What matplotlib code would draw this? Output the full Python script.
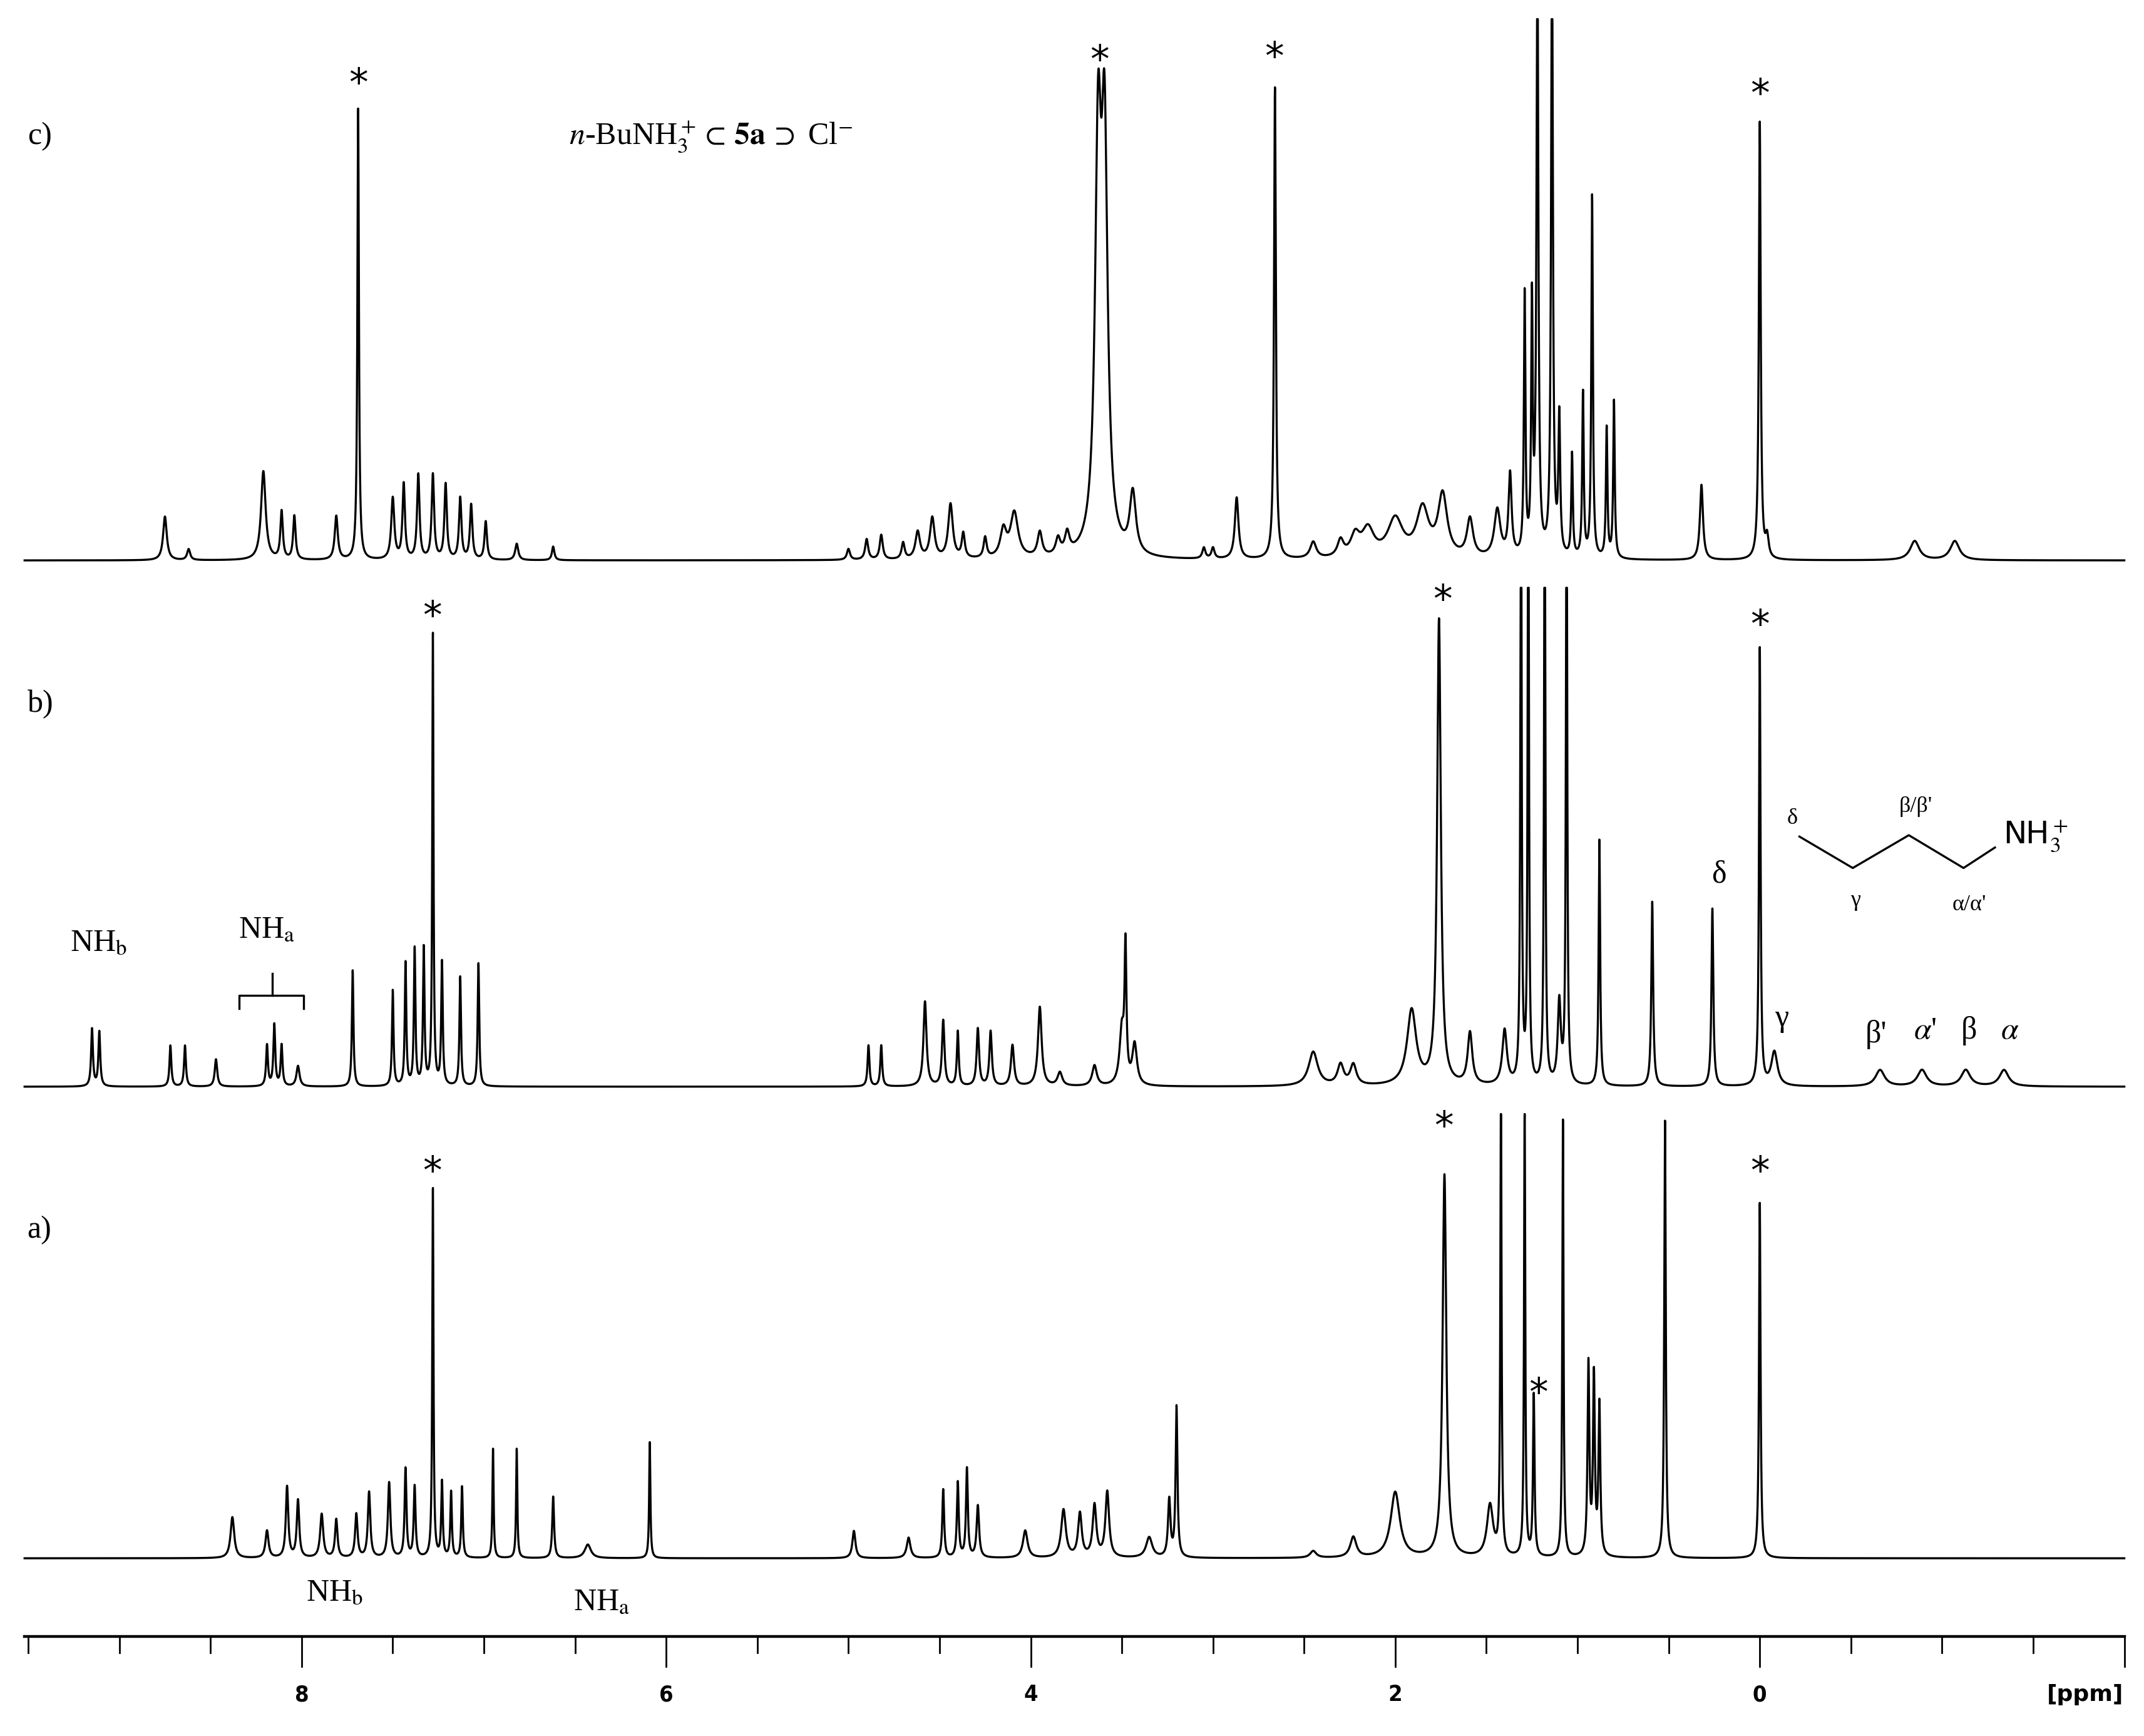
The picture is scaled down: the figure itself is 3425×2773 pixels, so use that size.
import numpy as np
import matplotlib
matplotlib.use("Agg")
import matplotlib.pyplot as plt

plt.rcParams['font.family'] = ['Liberation Serif', 'DejaVu Serif']
plt.rcParams['mathtext.fontset'] = 'stix'

# ---- data: peak positions (ppm), heights (arb.), half-widths (ppm) ----
c_ppm = [8.75, 8.62, 8.21, 8.11, 8.04, 7.81, 7.69, 7.50, 7.44, 7.36, 7.28, 7.21, 7.13, 7.07, 6.99, 6.82, 6.62,
         5.00, 4.90, 4.82, 4.70, 4.62, 4.54, 4.44, 4.37, 4.25, 4.15, 4.09, 3.95, 3.85, 3.80, 3.63, 3.595, 3.44, 3.05, 3.00,
         2.87, 2.66, 2.45, 2.30, 2.22, 2.15, 2.00, 1.85, 1.74, 1.59, 1.44, 1.37, 1.29, 1.25, 1.22, 1.14, 1.10, 1.03,
         0.97, 0.92, 0.84, 0.80, 0.32, 0.00, -0.04, -0.85, -1.07]
c_h = [32, 8, 65, 35, 32, 32, 330, 45, 55, 62, 62, 55, 45, 40, 28, 12, 10,
       8, 15, 18, 12, 20, 30, 40, 18, 15, 20, 33, 18, 12, 15, 285, 285, 45, 8, 8,
       45, 345, 12, 12, 15, 20, 28, 35, 45, 28, 35, 60, 190, 180, 450, 450, 100, 75,
       120, 265, 95, 115, 55, 320, 15, 14, 14]
c_w = [0.012, 0.01, 0.015, 0.008, 0.008, 0.01, 0.005, 0.01, 0.008, 0.008, 0.008, 0.008, 0.008, 0.008, 0.008, 0.01, 0.008,
       0.01, 0.01, 0.01, 0.01, 0.015, 0.015, 0.015, 0.01, 0.01, 0.02, 0.025, 0.015, 0.015, 0.015, 0.02, 0.02, 0.02, 0.01, 0.01,
       0.012, 0.006, 0.02, 0.02, 0.03, 0.04, 0.05, 0.04, 0.03, 0.02, 0.02, 0.01, 0.005, 0.005, 0.006, 0.006, 0.006, 0.005,
       0.005, 0.005, 0.005, 0.005, 0.01, 0.006, 0.01, 0.03, 0.03]

b_ppm = [9.15, 9.11, 8.72, 8.64, 8.47, 8.19, 8.15, 8.11, 8.02, 7.72, 7.50, 7.43, 7.38, 7.33, 7.28, 7.23, 7.13, 7.03,
         4.89, 4.82, 4.58, 4.48, 4.40, 4.29, 4.22, 4.10, 3.95, 3.84, 3.65, 3.50, 3.48, 3.43,
         2.45, 2.30, 2.23, 1.91, 1.76, 1.59, 1.40, 1.31, 1.27, 1.18, 1.10, 1.06, 0.88, 0.59, 0.26, 0.00, -0.08,
         -0.66, -0.89, -1.13, -1.34]
b_h = [42, 40, 30, 30, 20, 30, 45, 30, 15, 85, 70, 90, 100, 100, 330, 90, 80, 90,
       30, 30, 62, 48, 40, 42, 40, 30, 58, 10, 15, 40, 95, 30,
       25, 15, 15, 55, 340, 38, 40, 500, 500, 500, 60, 500, 180, 135, 130, 320, 25,
       12, 12, 12, 12]
b_w = [0.006, 0.006, 0.006, 0.006, 0.008, 0.006, 0.006, 0.006, 0.01, 0.005, 0.005, 0.005, 0.005, 0.005, 0.004, 0.005, 0.005, 0.005,
       0.006, 0.006, 0.01, 0.008, 0.006, 0.008, 0.008, 0.01, 0.012, 0.015, 0.015, 0.015, 0.006, 0.015,
       0.03, 0.02, 0.02, 0.03, 0.012, 0.015, 0.015, 0.004, 0.004, 0.004, 0.01, 0.004, 0.005, 0.006, 0.006, 0.005, 0.02,
       0.03, 0.03, 0.03, 0.03]

a_ppm = [8.38, 8.19, 8.08, 8.02, 7.89, 7.81, 7.70, 7.63, 7.52, 7.43, 7.38, 7.28, 7.23, 7.18, 7.12, 6.95, 6.82, 6.62, 6.43, 6.09,
         4.97, 4.67, 4.48, 4.40, 4.35, 4.29, 4.03, 3.82, 3.73, 3.65, 3.58, 3.35, 3.24, 3.20,
         2.45, 2.23, 2.00, 1.73, 1.48, 1.42, 1.29, 1.24, 1.08, 0.94, 0.91, 0.88, 0.52, 0.00]
a_h = [30, 20, 52, 42, 32, 28, 32, 48, 55, 65, 52, 270, 55, 48, 52, 80, 80, 45, 10, 85,
       20, 15, 50, 55, 65, 38, 20, 35, 32, 38, 48, 15, 42, 110,
       5, 15, 48, 280, 38, 340, 330, 118, 320, 140, 130, 110, 320, 260]
a_w = [0.012, 0.01, 0.008, 0.008, 0.01, 0.008, 0.008, 0.008, 0.008, 0.006, 0.006, 0.004, 0.005, 0.005, 0.005, 0.004, 0.004, 0.006, 0.02, 0.004,
       0.01, 0.012, 0.006, 0.006, 0.006, 0.008, 0.015, 0.015, 0.012, 0.012, 0.012, 0.02, 0.008, 0.006,
       0.02, 0.02, 0.03, 0.012, 0.02, 0.004, 0.004, 0.005, 0.004, 0.006, 0.006, 0.006, 0.005, 0.005]

tick_major = [8, 6, 4, 2, 0]

# ---- pixel helpers (reference layout) ----
def X(px):
    return (1287 - px) / 133.3

def Y(py):
    return 1270 - py

fig = plt.figure(figsize=(17.125, 13.865), dpi=200)
ax = fig.add_axes([0, 0, 1, 1])
ax.set_xlim(X(0), X(1568))
ax.set_ylim(0, 1270)
ax.axis('off')

grid = np.linspace(9.52, -2.0, 40000)

def spectrum(ppm, h, w):
    s = np.zeros_like(grid)
    for p, hh, ww in zip(ppm, h, w):
        s += hh * ww**2 / ((grid - p)**2 + ww**2)
    return s

for (pp, hh, ww, base, top) in [(c_ppm, c_h, c_w, Y(410), Y(14)),
                                (b_ppm, b_h, b_w, Y(795), Y(430)),
                                (a_ppm, a_h, a_w, Y(1140), Y(815))]:
    s = base + spectrum(pp, hh, ww)
    s = np.minimum(s, top)
    ax.plot(grid, s, color='black', lw=1.2)

# ---- ppm axis ----
ax.plot([9.52, -2.0], [Y(1197), Y(1197)], color='black', lw=1.6)
for t in np.arange(9.5, -2.01, -0.5):
    major = abs(t - round(t / 2) * 2) < 1e-6
    ax.plot([t, t], [Y(1197), Y(1197) - (22 if major else 12)], color='black', lw=1.0)
for t in tick_major:
    ax.text(t, Y(1240), str(t), ha='center', va='center', fontsize=13,
            family='DejaVu Sans', fontweight='bold', fontstretch='condensed')
ax.text(X(1525), Y(1240), '[ppm]', ha='center', va='center', fontsize=13,
        family='DejaVu Sans', fontweight='bold')

# ---- labels ----
fs = 18
ax.text(X(20), Y(100), 'c)', fontsize=fs, ha='left', va='center')
ax.text(X(20), Y(515), 'b)', fontsize=fs, ha='left', va='center')
ax.text(X(20), Y(900), 'a)', fontsize=fs, ha='left', va='center')
ax.text(X(520), Y(100), r'$\it{n}$-BuNH$_3^+\subset\,\mathbf{5a}\,\supset$ Cl$^{-}$',
        fontsize=fs, ha='center', va='center')

stars = [(262, 62), (804, 45), (932, 43), (1287, 70),
         (316, 452), (1055, 440), (1287, 458),
         (316, 858), (1056, 825), (1125, 1020), (1287, 858)]
for sx, sy in stars:
    ax.text(X(sx), Y(sy), '*', fontsize=22, ha='center', va='center', family='DejaVu Sans')

ax.text(X(72), Y(690), r'NH$_\mathrm{b}$', fontsize=fs, ha='center', va='center')
ax.text(X(195), Y(680), r'NH$_\mathrm{a}$', fontsize=fs, ha='center', va='center')
ax.plot([X(175), X(175), X(222), X(222)], [Y(738), Y(728), Y(728), Y(738)], color='black', lw=1.2)
ax.plot([X(199), X(199)], [Y(728), Y(712)], color='black', lw=1.2)
ax.text(X(245), Y(1165), r'NH$_\mathrm{b}$', fontsize=fs, ha='center', va='center')
ax.text(X(440), Y(1172), r'NH$_\mathrm{a}$', fontsize=fs, ha='center', va='center')

ax.text(X(1257), Y(640), 'δ', fontsize=fs, ha='center', va='center')
ax.text(X(1303), Y(745), 'γ', fontsize=fs, ha='center', va='center')
ax.text(X(1372), Y(757), "β'", fontsize=fs, ha='center', va='center')
ax.text(X(1408), Y(754), r"$\alpha$'", fontsize=fs, ha='center', va='center')
ax.text(X(1440), Y(754), 'β', fontsize=fs, ha='center', va='center')
ax.text(X(1470), Y(754), r'$\alpha$', fontsize=fs, ha='center', va='center')

# n-butylammonium sketch
zx = [1316, 1355, 1396, 1436, 1459]
zy = [612, 635, 611, 635, 620]
ax.plot([X(v) for v in zx], [Y(v) for v in zy], color='black', lw=1.2)
ax.text(X(1311), Y(599), 'δ', fontsize=13, ha='center', va='center')
ax.text(X(1401), Y(590), "β/β'", fontsize=13, ha='center', va='center')
ax.text(X(1357), Y(659), 'γ', fontsize=13, ha='center', va='center')
ax.text(X(1440), Y(662), "α/α'", fontsize=13, ha='center', va='center')
ax.text(X(1465), Y(612), r'NH$_3^+$', fontsize=18, ha='left', va='center', family='DejaVu Sans')

fig.savefig('out.png', dpi=200)
